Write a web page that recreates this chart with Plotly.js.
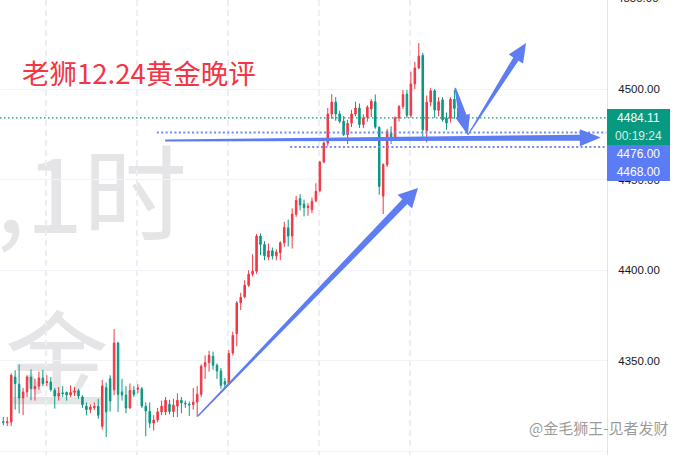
<!DOCTYPE html>
<html>
<head>
<meta charset="utf-8">
<script src="https://cdn.plot.ly/plotly-3.0.1.min.js"></script>
<style>
  html, body { margin: 0; padding: 0; background: #ffffff; }
  #chart { width: 673px; height: 455px; }
</style>
</head>
<body>
<div id="chart"></div>
<script>
// XAUUSD hourly candles (oldest first)
const opens = [
  4316.4, 4315.8, 4316.2, 4341.0, 4337.0, 4329.5, 4332.8, 4341.0, 4334.6, 4336.0,
  4340.5, 4338.0, 4338.3, 4333.7, 4330.6, 4332.3, 4332.5, 4331.1, 4332.6, 4333.5,
  4330.0, 4325.0, 4323.0, 4324.1, 4324.9, 4313.8, 4335.2, 4340.1, 4334.0, 4359.8,
  4332.8, 4331.1, 4324.0, 4333.7, 4334.3, 4334.5, 4324.9, 4322.1, 4315.6, 4317.3,
  4321.8, 4321.8, 4326.0, 4322.0, 4325.0, 4328.2, 4326.7, 4326.0, 4325.8, 4327.2,
  4331.5, 4347.0, 4349.0, 4352.5, 4347.5, 4344.4, 4338.5, 4337.4, 4354.3, 4365.0,
  4382.0, 4385.3, 4391.7, 4397.8, 4399.4, 4418.8, 4414.2, 4407.3, 4410.7, 4407.9,
  4409.6, 4415.1, 4423.4, 4418.8, 4430.9, 4439.5, 4436.5, 4434.6, 4433.4, 4438.3,
  4444.0, 4459.7, 4470.2, 4486.2, 4492.8, 4486.2, 4482.2, 4474.8, 4481.2, 4486.2,
  4489.5, 4480.4, 4484.4, 4489.0, 4493.0, 4478.8, 4440.9, 4458.2, 4475.7, 4472.9,
  4484.0, 4490.4, 4497.2, 4485.5, 4502.8, 4511.6, 4518.6, 4477.0, 4492.8, 4499.0,
  4488.2, 4494.0, 4484.0, 4483.8, 4494.3, 4489.5
];
const highs = [
  4319.0, 4319.0, 4343.0, 4344.8, 4348.0, 4335.0, 4342.0, 4345.3, 4340.0, 4344.0,
  4345.0, 4342.0, 4341.0, 4335.0, 4335.5, 4336.0, 4333.0, 4336.5, 4335.5, 4334.5,
  4331.0, 4327.0, 4326.0, 4327.0, 4329.0, 4339.5, 4338.0, 4342.0, 4367.5, 4360.5,
  4340.0, 4336.0, 4337.5, 4336.0, 4337.0, 4335.5, 4327.0, 4327.0, 4320.0, 4324.0,
  4328.0, 4330.0, 4328.5, 4329.0, 4332.0, 4330.0, 4328.0, 4327.5, 4335.0, 4336.0,
  4348.0, 4353.0, 4355.5, 4355.0, 4348.5, 4346.0, 4340.5, 4356.0, 4366.0, 4383.0,
  4387.5, 4394.5, 4400.0, 4408.8, 4420.0, 4420.3, 4416.0, 4414.7, 4412.5, 4411.5,
  4416.0, 4426.7, 4428.0, 4434.1, 4441.0, 4442.0, 4439.0, 4437.0, 4440.0, 4448.0,
  4460.2, 4471.0, 4489.5, 4497.2, 4495.5, 4488.0, 4485.0, 4483.0, 4488.5, 4493.0,
  4492.0, 4486.0, 4491.0, 4494.5, 4497.0, 4479.5, 4459.0, 4478.0, 4479.4, 4485.0,
  4491.0, 4499.5, 4499.5, 4509.5, 4515.0, 4525.4, 4520.0, 4496.5, 4500.5, 4500.0,
  4495.5, 4495.5, 4487.0, 4495.5, 4499.5, 4490.0
];
const lows = [
  4314.4, 4314.0, 4314.0, 4323.0, 4321.0, 4320.0, 4330.0, 4328.2, 4328.0, 4334.0,
  4336.0, 4336.0, 4333.0, 4323.6, 4328.0, 4330.0, 4328.0, 4330.0, 4330.5, 4329.0,
  4324.0, 4319.9, 4321.0, 4322.8, 4318.0, 4312.0, 4307.9, 4322.0, 4331.0, 4321.8,
  4328.0, 4321.0, 4323.5, 4330.0, 4332.0, 4324.0, 4308.3, 4313.0, 4311.5, 4316.0,
  4320.0, 4320.0, 4320.5, 4319.0, 4319.0, 4321.0, 4324.0, 4319.5, 4323.0, 4319.0,
  4330.0, 4340.0, 4344.0, 4345.0, 4340.0, 4334.5, 4334.5, 4337.0, 4353.0, 4358.0,
  4378.0, 4384.5, 4390.8, 4396.5, 4398.0, 4408.3, 4405.5, 4405.5, 4405.9, 4405.5,
  4405.5, 4412.9, 4413.0, 4412.0, 4429.5, 4433.0, 4429.7, 4430.0, 4431.5, 4437.5,
  4443.0, 4459.0, 4468.5, 4483.5, 4482.5, 4481.0, 4474.0, 4469.6, 4479.0, 4485.0,
  4478.5, 4478.5, 4482.0, 4484.5, 4478.0, 4441.6, 4431.0, 4457.0, 4469.6, 4471.5,
  4482.0, 4489.0, 4484.0, 4484.0, 4500.0, 4511.0, 4472.5, 4470.5, 4490.5, 4484.0,
  4485.0, 4482.0, 4477.5, 4481.5, 4483.5, 4483.0
];
const closes = [
  4316.0, 4316.4, 4342.0, 4337.4, 4329.5, 4332.8, 4341.0, 4334.6, 4335.9, 4340.5,
  4337.4, 4338.5, 4334.1, 4330.6, 4332.1, 4331.9, 4331.1, 4332.5, 4333.3, 4330.6,
  4325.8, 4323.0, 4324.5, 4324.9, 4319.9, 4336.1, 4321.8, 4327.8, 4359.8, 4331.5,
  4331.1, 4324.0, 4333.7, 4331.5, 4335.0, 4325.0, 4322.3, 4315.6, 4317.3, 4321.8,
  4324.9, 4328.2, 4322.0, 4325.5, 4328.2, 4326.7, 4326.3, 4325.6, 4327.2, 4331.5,
  4347.0, 4349.0, 4353.0, 4347.5, 4344.4, 4336.5, 4337.0, 4354.0, 4364.0, 4381.9,
  4385.0, 4391.7, 4397.8, 4399.4, 4418.8, 4414.2, 4407.9, 4410.7, 4407.9, 4410.0,
  4415.1, 4423.6, 4418.8, 4430.9, 4438.5, 4436.0, 4434.5, 4435.3, 4438.0, 4443.5,
  4459.7, 4470.2, 4486.2, 4492.8, 4486.2, 4482.2, 4474.8, 4481.0, 4486.2, 4489.5,
  4480.4, 4484.0, 4490.0, 4493.2, 4479.0, 4446.2, 4458.2, 4476.6, 4472.9, 4484.0,
  4490.4, 4496.9, 4485.5, 4502.8, 4511.6, 4518.1, 4477.5, 4492.8, 4499.0, 4488.4,
  4493.0, 4483.1, 4481.2, 4494.3, 4489.3, 4484.11
];
const barIndex = opens.map((_, i) => i);

// price axis ticks
const priceTicks = [4300, 4350, 4400, 4450, 4500, 4550];
// session separators (bar positions)
const sessionBreaks = [10.8, 33.8, 56.8, 79.8, 102.8];

// drawn levels
const lastPrice = 4484.11;
const countdown = '00:19:24';
const levelPrices = [4476.00, 4468.00];
const levelStartBar = [38.8, 72.5];

// hand-drawn arrows: [bar, price] start and tip
const arrowStarts = [[49.2, 4319.5], [40.9, 4471.6], [114.2, 4500.6], [117.4, 4474.6]];
const arrowTips   = [[104.8, 4445.4], [151.0, 4473.2], [117.4, 4474.6], [132.1, 4525.4]];

const titleText = '老狮12.24黄金晚评';
const watermarkLine1 = 'XAUUSD,1时';
const watermarkLine2 = '黄金';
const signature = '@金毛狮王-见者发财';

// ---- layout geometry ----
const W = 673, H = 455, RIGHT = 66;
const plotW = W - RIGHT, plotH = H;
const xRange = [-0.834, 152.56];
const yRange = [4298.0, 4549.12];

const UP = '#f23645', DOWN = '#089981', BLUE = '#5f7df2';

function toPx(pt) {
  return [(pt[0] - xRange[0]) / (xRange[1] - xRange[0]) * plotW,
          (yRange[1] - pt[1]) / (yRange[1] - yRange[0]) * plotH];
}
function toData(p) {
  return [xRange[0] + p[0] / plotW * (xRange[1] - xRange[0]),
          yRange[1] - p[1] / plotH * (yRange[1] - yRange[0])];
}
// tapered arrow outline, built in screen space and mapped back to data space
function arrowPath(from, to, w0, w1, headLen, headW) {
  const a = toPx(from), b = toPx(to);
  const dx = b[0] - a[0], dy = b[1] - a[1], L = Math.hypot(dx, dy);
  const ux = dx / L, uy = dy / L, nx = -uy, ny = ux;
  const bx = b[0] - ux * headLen, by = b[1] - uy * headLen;
  const pts = [
    [a[0] + nx * w0 / 2, a[1] + ny * w0 / 2],
    [bx + nx * w1 / 2, by + ny * w1 / 2],
    [bx + nx * headW / 2, by + ny * headW / 2],
    [b[0], b[1]],
    [bx - nx * headW / 2, by - ny * headW / 2],
    [bx - nx * w1 / 2, by - ny * w1 / 2],
    [a[0] - nx * w0 / 2, a[1] - ny * w0 / 2]
  ];
  return 'M' + pts.map(p => toData(p).map(v => v.toFixed(4)).join(',')).join('L') + 'Z';
}
const arrowStyle = [
  [1.5, 7, 19, 20],
  [2, 6, 21, 17],
  [1.5, 8, 20, 15],
  [1, 6, 19, 17]
];

const shapes = [];
// watermark
shapes.push({
  type: 'rect', xref: 'paper', yref: 'paper', x0: -1, x1: 190 / plotW, y0: 0.43, y1: 0.67,
  line: { width: 0 }, fillcolor: 'rgba(0,0,0,0)', layer: 'below',
  label: { text: watermarkLine1, textposition: 'middle right', padding: 0,
           font: { family: 'Noto Sans CJK SC', size: 104, color: '#e5e5e7' } }
});
shapes.push({
  type: 'rect', xref: 'paper', yref: 'paper', x0: -1, x1: 112 / plotW, y0: 0.065, y1: 0.305,
  line: { width: 0 }, fillcolor: 'rgba(0,0,0,0)', layer: 'below',
  label: { text: watermarkLine2, textposition: 'middle right', padding: 0,
           font: { family: 'Noto Sans CJK SC', size: 104, color: '#e5e5e7' } }
});
// last price line
shapes.push({
  type: 'line', xref: 'paper', yref: 'y', x0: 0, x1: 1, y0: lastPrice, y1: lastPrice,
  line: { color: DOWN, width: 1.3, dash: '1.5px,2.5px' }
});
// level lines
levelPrices.forEach((p, k) => {
  shapes.push({
    type: 'line', xref: 'x', yref: 'y', x0: levelStartBar[k], x1: xRange[1] - 0.2, y0: p, y1: p,
    line: { color: '#6f8cf6', width: 2.2, dash: '2px,2.4px' }
  });
});
// arrows
arrowStarts.forEach((s, k) => {
  const st = arrowStyle[k];
  shapes.push({
    type: 'path', xref: 'x', yref: 'y', path: arrowPath(s, arrowTips[k], st[0], st[1], st[2], st[3]),
    fillcolor: BLUE, line: { width: 0 }, layer: 'above'
  });
});

const annotations = [];
annotations.push({
  xref: 'paper', yref: 'paper', x: 20 / plotW, y: 1 - 72 / H, xanchor: 'left', yanchor: 'middle',
  text: titleText, showarrow: false,
  font: { family: 'Noto Sans CJK SC', size: 27.5, color: UP }
});
function priceTag(text, y, shift, bg, color) {
  return {
    xref: 'paper', yref: 'y', x: 1, y: y, xanchor: 'left', yanchor: 'middle', yshift: shift,
    text: text, showarrow: false, bgcolor: bg, borderpad: 1, borderwidth: 0, width: 61, height: 16,
    font: { family: 'Liberation Sans, Arial, sans-serif', size: 12, color: color }
  };
}
annotations.push(priceTag(lastPrice.toFixed(2), lastPrice, 0, DOWN, '#ffffff'));
annotations.push(priceTag(countdown, lastPrice, -18.4, DOWN, 'rgba(255,255,255,0.85)'));
annotations.push(priceTag(levelPrices[0].toFixed(2), levelPrices[0], -21.7, '#5b7cf5', '#ffffff'));
annotations.push(priceTag(levelPrices[1].toFixed(2), levelPrices[1], -25.2, '#5b7cf5', '#ffffff'));
// top price label, partly above the frame
annotations.push({
  xref: 'paper', yref: 'paper', x: 1, y: 1, xanchor: 'left', yanchor: 'middle',
  xshift: 8, yshift: 2, text: priceTicks[priceTicks.length - 1].toFixed(2), showarrow: false,
  font: { family: 'Liberation Sans, Arial, sans-serif', size: 11.5, color: '#131722' }
});
annotations.push({
  xref: 'paper', yref: 'paper', x: 527 / plotW, y: 1 - 427 / H, xanchor: 'left', yanchor: 'middle',
  text: signature, showarrow: false,
  font: { family: 'Noto Sans CJK SC', size: 15, color: 'rgba(120,120,120,0.75)' }
});

const trace = {
  type: 'candlestick',
  x: barIndex, open: opens, high: highs, low: lows, close: closes,
  increasing: { line: { color: UP, width: 1 }, fillcolor: UP },
  decreasing: { line: { color: DOWN, width: 1 }, fillcolor: DOWN },
  whiskerwidth: 0, hoverinfo: 'skip', showlegend: false
};

const layout = {
  width: W, height: H,
  margin: { l: 0, r: RIGHT, t: 0, b: 0, pad: 0 },
  paper_bgcolor: '#ffffff', plot_bgcolor: '#ffffff',
  showlegend: false,
  boxgap: 0.45,
  xaxis: {
    range: xRange, fixedrange: true, rangeslider: { visible: false },
    tickvals: sessionBreaks, showticklabels: false, ticks: '',
    showgrid: true, gridcolor: '#eceef3', gridwidth: 2, griddash: '6px,4px',
    zeroline: false, showline: false
  },
  yaxis: {
    range: yRange, fixedrange: true, side: 'right',
    tickvals: priceTicks, tickformat: '.2f', ticks: '', ticklabelstandoff: 8,
    tickfont: { family: 'Liberation Sans, Arial, sans-serif', size: 11.5, color: '#131722' },
    showgrid: true, gridcolor: '#f0f3fa', gridwidth: 1,
    zeroline: false, showline: true, linecolor: '#e0e3eb', linewidth: 1
  },
  shapes: shapes,
  annotations: annotations
};

Plotly.newPlot('chart', [trace], layout, { staticPlot: true, displayModeBar: false });
</script>
</body>
</html>
